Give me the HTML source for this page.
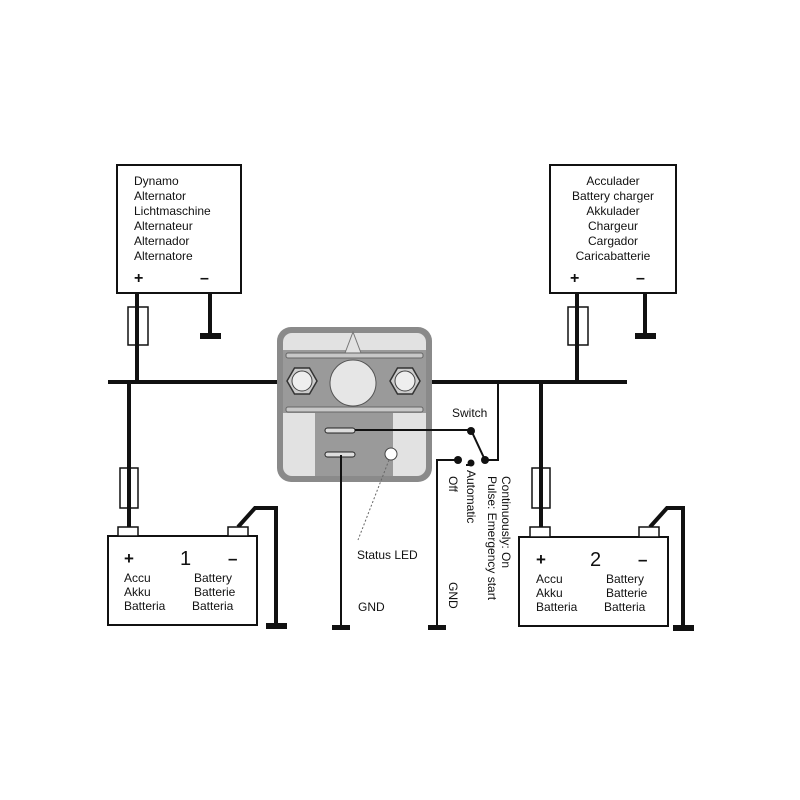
<!DOCTYPE html>
<html><head><meta charset="utf-8"><style>body{margin:0;background:#fff}svg{display:block}text{font-family:"Liberation Sans",Arial,sans-serif;fill:#111}</style></head><body>
<svg width="800" height="800" viewBox="0 0 800 800" xmlns="http://www.w3.org/2000/svg">
<rect width="800" height="800" fill="#fff"/>
<rect x="117" y="165" width="124" height="128" fill="#fff" stroke="#111" stroke-width="2"/>
<g font-size="12"><text x="134" y="185">Dynamo</text><text x="134" y="200">Alternator</text><text x="134" y="215">Lichtmaschine</text><text x="134" y="230">Alternateur</text><text x="134" y="245">Alternador</text><text x="134" y="260">Alternatore</text></g>
<text x="134" y="283" font-size="16" font-weight="bold">+</text><text x="200" y="283" font-size="16" font-weight="bold">–</text>
<rect x="550" y="165" width="126" height="128" fill="#fff" stroke="#111" stroke-width="2"/>
<g font-size="12" text-anchor="middle"><text x="613" y="185">Acculader</text><text x="613" y="200">Battery charger</text><text x="613" y="215">Akkulader</text><text x="613" y="230">Chargeur</text><text x="613" y="245">Cargador</text><text x="613" y="260">Caricabatterie</text></g>
<text x="570" y="283" font-size="16" font-weight="bold">+</text><text x="636" y="283" font-size="16" font-weight="bold">–</text>
<g stroke="#111" stroke-width="4" fill="none">
<line x1="108" y1="382" x2="292" y2="382"/><line x1="418" y1="382" x2="627" y2="382"/>
<line x1="137" y1="293" x2="137" y2="382"/><line x1="210" y1="293" x2="210" y2="335"/>
<line x1="577" y1="293" x2="577" y2="382"/><line x1="645" y1="293" x2="645" y2="335"/>
<line x1="129" y1="382" x2="129" y2="527"/><line x1="541" y1="382" x2="541" y2="527"/>
<polyline points="238,527 255,508 276,508 276,626"/><polyline points="650,527 667,508 683,508 683,627"/>
</g>
<g fill="#111"><rect x="200" y="333" width="21" height="6"/><rect x="635" y="333" width="21" height="6"/><rect x="266" y="623" width="21" height="6"/><rect x="673" y="625" width="21" height="6"/><rect x="332" y="625" width="18" height="5"/><rect x="428" y="625" width="18" height="5"/></g>
<g fill="#fff" stroke="#111" stroke-width="1.5"><rect x="128" y="307" width="20" height="38"/><rect x="568" y="307" width="20" height="38"/><rect x="120" y="468" width="18" height="40"/><rect x="532" y="468" width="18" height="40"/></g>
<g stroke="#111" stroke-width="4"><line x1="137" y1="305" x2="137" y2="347"/><line x1="577" y1="305" x2="577" y2="347"/><line x1="129" y1="466" x2="129" y2="510"/><line x1="541" y1="466" x2="541" y2="510"/></g>
<rect x="108" y="536" width="149" height="89" fill="#fff" stroke="#111" stroke-width="2"/>
<rect x="118" y="527" width="20" height="9" fill="#fff" stroke="#111" stroke-width="1.5"/><rect x="228" y="527" width="20" height="9" fill="#fff" stroke="#111" stroke-width="1.5"/>
<text x="124" y="564" font-size="17" font-weight="bold">+</text><text x="180" y="565" font-size="20">1</text><text x="228" y="564" font-size="17" font-weight="bold">–</text>
<g font-size="12"><text x="124" y="582">Accu</text><text x="124" y="596">Akku</text><text x="124" y="610">Batteria</text><text x="194" y="582">Battery</text><text x="194" y="596">Batterie</text><text x="192" y="610">Batteria</text></g>
<rect x="519" y="537" width="149" height="89" fill="#fff" stroke="#111" stroke-width="2"/>
<rect x="530" y="527" width="20" height="10" fill="#fff" stroke="#111" stroke-width="1.5"/><rect x="639" y="527" width="20" height="10" fill="#fff" stroke="#111" stroke-width="1.5"/>
<text x="536" y="565" font-size="17" font-weight="bold">+</text><text x="590" y="566" font-size="20">2</text><text x="638" y="565" font-size="17" font-weight="bold">–</text>
<g font-size="12"><text x="536" y="583">Accu</text><text x="536" y="597">Akku</text><text x="536" y="611">Batteria</text><text x="606" y="583">Battery</text><text x="606" y="597">Batterie</text><text x="604" y="611">Batteria</text></g>
<rect x="277" y="327" width="155" height="155" rx="14" fill="#8a8a8a"/>
<rect x="283" y="333" width="143" height="143" rx="9" fill="#e2e2e2"/>
<rect x="283" y="350" width="143" height="63" fill="#9a9a9a"/>
<rect x="315" y="413" width="78" height="63" fill="#9a9a9a"/>
<polygon points="345,353 353,332 361,353" fill="#e2e2e2" stroke="#777"/>
<rect x="286" y="353" width="137" height="5" rx="2" fill="#c8c8c8" stroke="#666"/>
<rect x="286" y="407" width="137" height="5" rx="2" fill="#c8c8c8" stroke="#666"/>
<circle cx="353" cy="383" r="23" fill="#e6e6e6" stroke="#555"/>
<polygon points="287,381 294.5,368 309.5,368 317,381 309.5,394 294.5,394" fill="#ccc" stroke="#333" stroke-width="1.5"/><circle cx="302" cy="381" r="10" fill="#eee" stroke="#444"/>
<polygon points="390,381 397.5,368 412.5,368 420,381 412.5,394 397.5,394" fill="#ccc" stroke="#333" stroke-width="1.5"/><circle cx="405" cy="381" r="10" fill="#eee" stroke="#444"/>
<rect x="325" y="428" width="30" height="5" rx="2.5" fill="#ddd" stroke="#222"/>
<rect x="325" y="452" width="30" height="5" rx="2.5" fill="#ddd" stroke="#222"/>
<circle cx="391" cy="454" r="6" fill="#fff" stroke="#444"/>
<g stroke="#111" stroke-width="2" fill="none">
<polyline points="355,430 471,430 485,460 498,460 498,382"/>
<polyline points="458,460 437,460 437,627"/>
<line x1="341" y1="455" x2="341" y2="627"/>
<line x1="466" y1="465" x2="471" y2="465"/>
</g>
<line x1="389" y1="460" x2="358" y2="540" stroke="#666" stroke-width="1" stroke-dasharray="2,2"/>
<g fill="#111"><circle cx="471" cy="431" r="4"/><circle cx="458" cy="460" r="4"/><circle cx="471" cy="463" r="3.5"/><circle cx="485" cy="460" r="4"/></g>
<text x="452" y="417" font-size="12">Switch</text>
<text x="357" y="559" font-size="12">Status LED</text>
<text x="358" y="611" font-size="12">GND</text>
<g font-size="12">
<text transform="translate(449,476) rotate(90)">Off</text>
<text transform="translate(467,470) rotate(90)">Automatic</text>
<text transform="translate(488,476) rotate(90)">Pulse: Emergency start</text>
<text transform="translate(502,476) rotate(90)">Continuously: On</text>
<text transform="translate(449,582) rotate(90)">GND</text>
</g>
</svg>
</body></html>
